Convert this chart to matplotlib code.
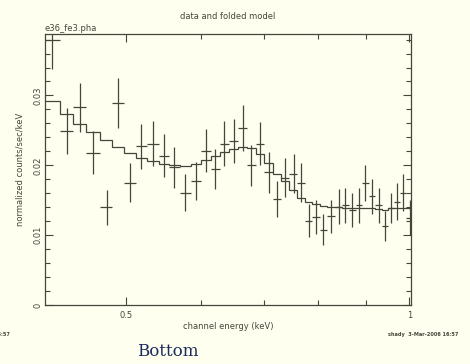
import numpy as np
import matplotlib
matplotlib.use("Agg")
import matplotlib.pyplot as plt
from matplotlib.ticker import FixedLocator, NullFormatter, FixedFormatter

# Channel energies (keV), count rates and 1-sigma errors
energy = [0.4175, 0.4324, 0.4467, 0.4608, 0.4769, 0.4899, 0.5049, 0.5187,
          0.5345, 0.5488, 0.5628, 0.5777, 0.5931, 0.6077, 0.6218, 0.6356,
          0.6503, 0.6654, 0.6792, 0.6943, 0.7085, 0.7232, 0.7381, 0.7533,
          0.7677, 0.7814, 0.7963, 0.8096, 0.8256, 0.8411, 0.8550, 0.8692,
          0.8849, 0.8980, 0.9129, 0.9277, 0.9431, 0.9564, 0.9705, 0.9849,
          1.0006]
rate = [0.0380, 0.0249, 0.0283, 0.0218, 0.0140, 0.0289, 0.0175, 0.0227,
        0.0231, 0.0214, 0.0197, 0.0161, 0.0178, 0.0221, 0.0195, 0.0231,
        0.0235, 0.0253, 0.0200, 0.0231, 0.0190, 0.0152, 0.0182, 0.0188,
        0.0175, 0.0121, 0.0126, 0.0108, 0.0127, 0.0141, 0.0143, 0.0136,
        0.0143, 0.0175, 0.0156, 0.0143, 0.0113, 0.0139, 0.0148, 0.0161,
        0.0125]
rate_err = [0.0042, 0.0033, 0.0035, 0.0031, 0.0025, 0.0036, 0.0028, 0.0032,
            0.0032, 0.0031, 0.0029, 0.0026, 0.0027, 0.0031, 0.0029, 0.0032,
            0.0031, 0.0033, 0.0029, 0.0031, 0.0029, 0.0026, 0.0028, 0.0028,
            0.0028, 0.0023, 0.0024, 0.0022, 0.0024, 0.0025, 0.0025, 0.0025,
            0.0025, 0.0026, 0.0025, 0.0025, 0.0022, 0.0021, 0.0026, 0.0027,
            0.0025]
# Folded model, one value per channel
model = [0.0292, 0.0274, 0.0259, 0.0247, 0.0236, 0.0226, 0.0218, 0.0211,
         0.0206, 0.0202, 0.0200, 0.0199, 0.0202, 0.0208, 0.0214, 0.0219,
         0.0223, 0.0226, 0.0225, 0.0216, 0.0203, 0.0188, 0.0178, 0.0165,
         0.0153, 0.0147, 0.0144, 0.0142, 0.0141, 0.0140, 0.0139, 0.0139,
         0.0139, 0.0139, 0.0139, 0.0138, 0.0136, 0.0139, 0.0139, 0.0139,
         0.0139]

x_major = [0.5, 1.0]
x_major_labels = ["0.5", "1"]
x_minor = [0.6, 0.7, 0.8, 0.9]
y_major = [0.0, 0.01, 0.02, 0.03]
y_major_labels = ["0", "0.01", "0.02", "0.03"]

INK = "#45453a"
BG = "#fffff0"

e = np.array(energy)
le = np.log10(e)
mid = 10 ** ((le[:-1] + le[1:]) / 2)
edges = np.concatenate([[10 ** (le[0] - (le[1] - le[0]) / 2)], mid,
                        [10 ** (le[-1] + (le[-1] - le[-2]) / 2)]])
xerr = np.vstack([e - edges[:-1], edges[1:] - e])

fig = plt.figure(figsize=(4.7, 3.64), dpi=100, facecolor=BG)
ax = fig.add_axes([0.0957, 0.162, 0.7788, 0.7446], facecolor=BG)

ax.errorbar(e, rate, yerr=rate_err, xerr=xerr, fmt="none",
            ecolor=INK, elinewidth=0.9, capsize=0)
ax.stairs(model, edges, baseline=None, color=INK, linewidth=0.9)

ax.set_xscale("log")
ax.set_xlim(0.41, 1.004)
ax.set_ylim(0, 0.0388)

ax.xaxis.set_major_locator(FixedLocator(x_major))
ax.xaxis.set_major_formatter(FixedFormatter(x_major_labels))
ax.xaxis.set_minor_locator(FixedLocator(x_minor))
ax.xaxis.set_minor_formatter(NullFormatter())
ax.yaxis.set_major_locator(FixedLocator(y_major))
ax.yaxis.set_major_formatter(FixedFormatter(y_major_labels))
ax.yaxis.set_minor_locator(FixedLocator(np.arange(0, 0.0388, 0.002)))

ax.tick_params(which="both", direction="in", top=True, right=True,
               color=INK, width=0.8, labelsize=6, labelcolor=INK)
ax.tick_params(which="major", length=6)
ax.tick_params(axis="x", which="major", pad=4)
ax.tick_params(axis="y", which="major", pad=2)
ax.tick_params(which="minor", length=3.5)
for lab in ax.get_yticklabels():
    lab.set_rotation(90)
    lab.set_va("center")
for sp in ax.spines.values():
    sp.set_color(INK)
    sp.set_linewidth(0.9)

ax.set_xlabel("channel energy (keV)", fontsize=6, color=INK, labelpad=1.5)
ax.set_ylabel("normalized counts/sec/keV", fontsize=6, color=INK, labelpad=6)

fig.text(0.485, 0.955, "data and folded model", fontsize=6, color=INK,
         ha="center", va="center")
fig.text(0.0957, 0.922, "e36_fe3.pha", fontsize=6, color=INK,
         ha="left", va="center")
fig.text(0.975, 0.082, "shady  3-Mar-2006 16:57", fontsize=3.6, color=INK,
         ha="right", va="center", fontweight="bold")
fig.text(0.022, 0.082, "16:57", fontsize=3.6, color=INK,
         ha="right", va="center", fontweight="bold")
fig.text(0.357, 0.035, "Bottom", fontsize=12, color="#1d2a5c",
         family="DejaVu Serif", ha="center", va="center")

fig.savefig("out.png", dpi=100, facecolor=BG)
